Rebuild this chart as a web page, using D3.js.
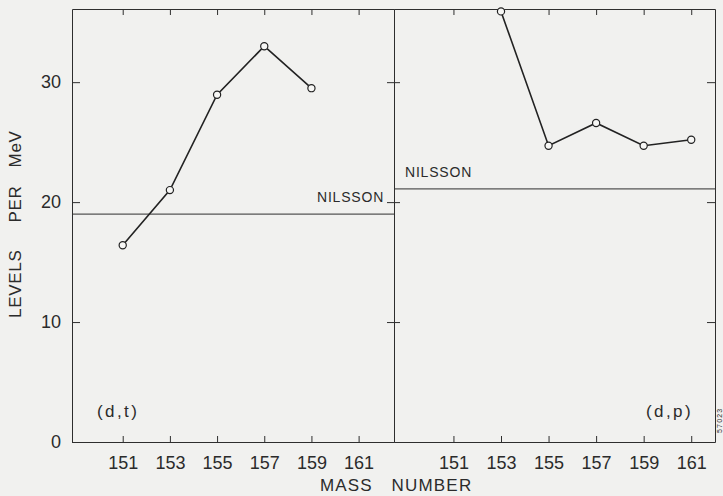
<!DOCTYPE html>
<html>
<head>
<meta charset="utf-8">
<script src="https://cdn.jsdelivr.net/npm/d3@7"></script>
<style>
  html, body { margin: 0; padding: 0; background: #f1f1ef; }
  svg { display: block; }
  text { font-family: "Liberation Sans", Arial, sans-serif; fill: #2b2b2b; }
</style>
</head>
<body>
<svg id="chart" width="723" height="496"></svg>
<script>
// Level density (levels per MeV) against mass number, two reactions
const massTicks = [151, 153, 155, 157, 159, 161];
const levelTicks = [0, 10, 20, 30];

const dtMass = [151, 153, 155, 157, 159];
const dtLevels = [16.4, 21.0, 28.95, 33.0, 29.5];
const dtNilsson = 19.0;

const dpMass = [153, 155, 157, 159, 161];
const dpLevels = [35.9, 24.7, 26.6, 24.7, 25.2];
const dpNilsson = 21.1;

const ink = "#2e2e2e";
const svg = d3.select("#chart");

const y = d3.scaleLinear().domain([0, 36.1]).range([442, 9]);

const panels = [
  { label: "(d,t)", mass: dtMass, levels: dtLevels, nilsson: dtNilsson,
    x: d3.scaleLinear().domain([148.85, 162.5]).range([72, 394]),
    labelX: 97, nilssonX: 317, nilssonY: 201.5 },
  { label: "(d,p)", mass: dpMass, levels: dpLevels, nilsson: dpNilsson,
    x: d3.scaleLinear().domain([148.5, 162]).range([394, 715]),
    labelX: 646, nilssonX: 405, nilssonY: 176.5 }
];

function styleAxis(g) {
  g.selectAll("path, line").attr("stroke", ink).attr("stroke-width", 1);
  g.selectAll("text").attr("font-size", 18).attr("font-family", "Liberation Sans, Arial, sans-serif").attr("fill", "#2b2b2b");
}

panels.forEach(p => {
  // bottom axis with inward ticks and labels
  svg.append("g").attr("transform", "translate(0,442)")
    .call(d3.axisBottom(p.x).tickValues(massTicks).tickSizeInner(-6).tickSizeOuter(0).tickPadding(14))
    .call(styleAxis);
  // top border with inward ticks
  svg.append("g").attr("transform", "translate(0,9)")
    .call(d3.axisTop(p.x).tickValues(massTicks).tickSizeInner(-6).tickSizeOuter(0).tickFormat(""))
    .call(styleAxis);

  // Nilsson estimate
  svg.append("line")
    .attr("x1", p.x.range()[0]).attr("x2", p.x.range()[1])
    .attr("y1", y(p.nilsson)).attr("y2", y(p.nilsson))
    .attr("stroke", ink).attr("stroke-width", 1);
  svg.append("text").attr("x", p.nilssonX).attr("y", p.nilssonY)
    .attr("font-size", 14).attr("letter-spacing", 0.8).text("NILSSON");

  // measured values
  const pts = p.mass.map((m, i) => [m, p.levels[i]]);
  svg.append("path").datum(pts)
    .attr("fill", "none").attr("stroke", "#222").attr("stroke-width", 1.6)
    .attr("d", d3.line().x(d => p.x(d[0])).y(d => y(d[1])));
  svg.append("g").selectAll("circle").data(pts).join("circle")
    .attr("cx", d => p.x(d[0])).attr("cy", d => y(d[1])).attr("r", 3.6)
    .attr("fill", "#f7f7f5").attr("stroke", "#222").attr("stroke-width", 1.2);

  svg.append("text").attr("x", p.labelX).attr("y", 417)
    .attr("font-size", 17).attr("letter-spacing", 2.4).text(p.label);
});

// left axis
svg.append("g").attr("transform", "translate(72,0)")
  .call(d3.axisLeft(y).tickValues(levelTicks).tickSizeInner(-8).tickSizeOuter(0).tickPadding(11))
  .call(styleAxis);
// divider between panels, ticks on both sides
svg.append("g").attr("transform", "translate(394,0)")
  .call(d3.axisLeft(y).tickValues(levelTicks.slice(1)).tickSizeInner(7).tickSizeOuter(0).tickFormat(""))
  .call(styleAxis);
svg.append("g").attr("transform", "translate(394,0)")
  .call(d3.axisRight(y).tickValues(levelTicks.slice(1)).tickSizeInner(6).tickSizeOuter(0).tickFormat(""))
  .call(styleAxis);
// right border
svg.append("g").attr("transform", "translate(715,0)")
  .call(d3.axisRight(y).tickValues(levelTicks.slice(1)).tickSizeInner(-8).tickSizeOuter(0).tickFormat(""))
  .call(styleAxis);

// axis titles
const yt = svg.append("text").attr("transform", "translate(21,318) rotate(-90)")
  .attr("font-size", 17).attr("letter-spacing", 0.7);
yt.append("tspan").text("LEVELS");
yt.append("tspan").attr("dx", 27).text("PER");
yt.append("tspan").attr("dx", 18).text("MeV");

svg.append("text").attr("x", 320).attr("y", 491).attr("font-size", 17)
  .attr("letter-spacing", 1.1).text("MASS");
svg.append("text").attr("x", 391.5).attr("y", 491).attr("font-size", 17)
  .attr("letter-spacing", 1.2).text("NUMBER");

// figure number
svg.append("text").attr("transform", "translate(721.5,433) rotate(-90)")
  .attr("font-size", 7).attr("letter-spacing", 1.2).attr("fill", "#555").text("57023");
</script>
</body>
</html>
